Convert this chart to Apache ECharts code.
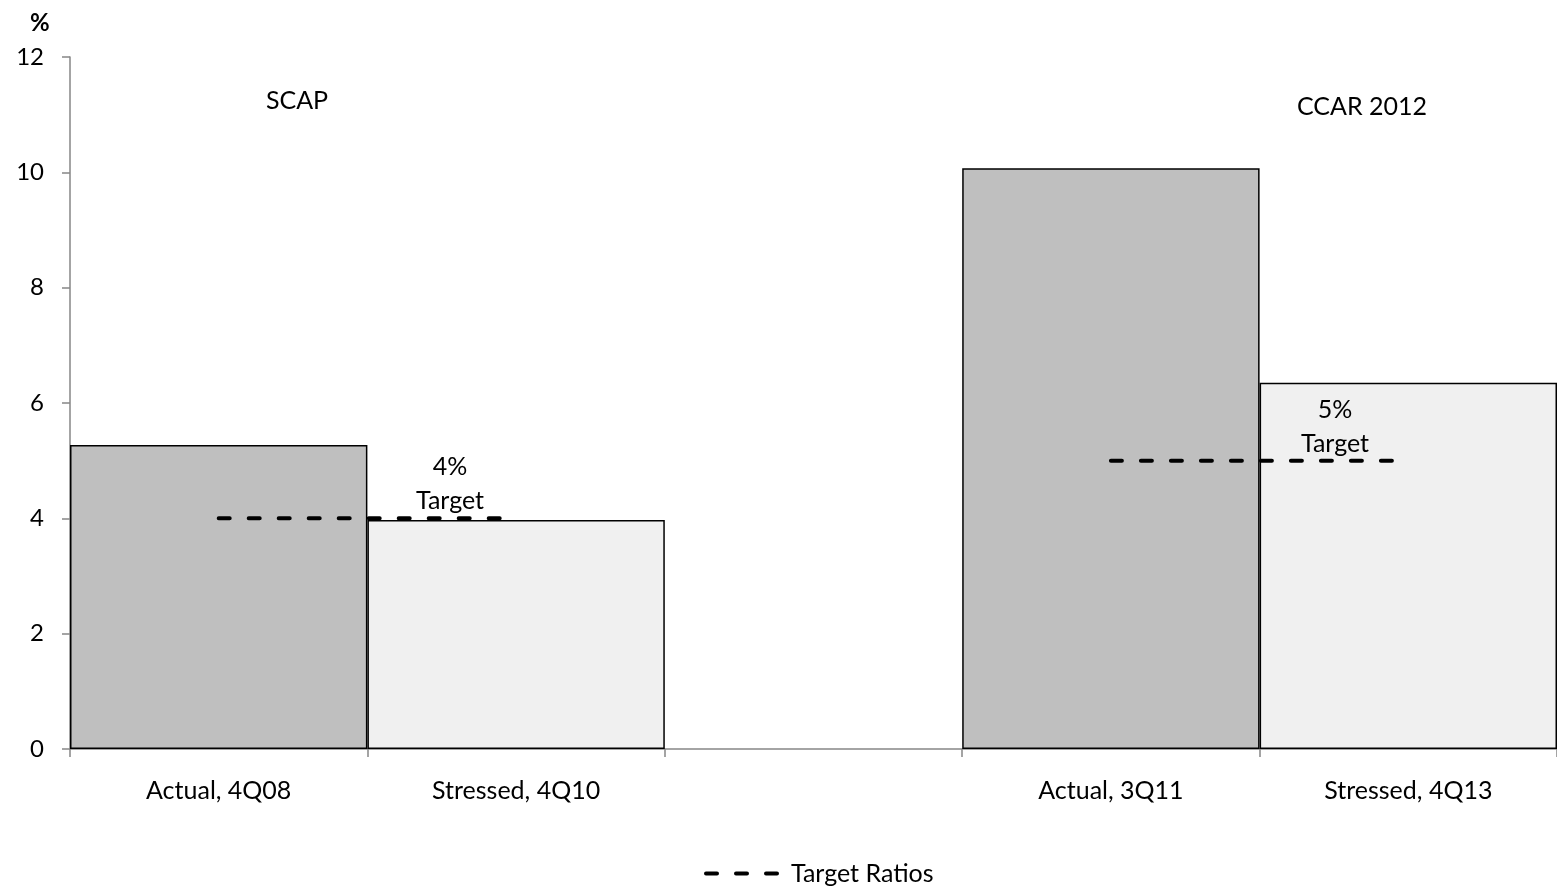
<!DOCTYPE html>
<html>
<head>
<meta charset="utf-8">
<script src="https://cdn.jsdelivr.net/npm/echarts@6/dist/echarts.min.js"></script>
<style>
  html, body { margin: 0; padding: 0; background: #fff; }
  #chart { width: 1557px; height: 886px; }
</style>
</head>
<body>
<div id="chart"></div>
<script>
// Tier 1 common ratio: actual vs. stressed, SCAP and CCAR 2012
const categories = ['Actual, 4Q08', 'Stressed, 4Q10', '', 'Actual, 3Q11', 'Stressed, 4Q13'];
const ratioValues = [5.27, 3.97, null, 10.07, 6.35];
const targetValues = [4, 4, null, 5, 5];
const targetLabels = ['4%\nTarget', '5%\nTarget'];
const programNames = ['SCAP', 'CCAR 2012'];
const yTicks = { min: 0, max: 12, interval: 2 };

const FONT = 'Lato, "Noto Sans", sans-serif';
const DARK = '#bfbfbf';
const LIGHT = '#f0f0f0';
const AXIS = '#868686';

const chart = echarts.init(document.getElementById('chart'), null, { renderer: 'canvas' });

chart.setOption({
  backgroundColor: '#ffffff',
  animation: false,
  textStyle: { fontFamily: FONT, color: '#000' },
  grid: { left: 70, right: 0, top: 57, bottom: 137, containLabel: false },
  xAxis: {
    type: 'category',
    data: categories,
    boundaryGap: true,
    axisLine: { lineStyle: { color: AXIS, width: 1.5 } },
    axisTick: { show: true, length: 8, alignWithLabel: false, lineStyle: { color: AXIS, width: 1.5 } },
    axisLabel: { margin: 29, fontSize: 25, color: '#000', fontFamily: FONT, interval: 0 },
    splitLine: { show: false }
  },
  yAxis: {
    type: 'value',
    min: yTicks.min,
    max: yTicks.max,
    interval: yTicks.interval,
    axisLine: { show: true, lineStyle: { color: AXIS, width: 1.5 } },
    axisTick: { show: true, length: 8, lineStyle: { color: AXIS, width: 1.5 } },
    axisLabel: { margin: 26, fontSize: 24, color: '#000', fontFamily: FONT },
    splitLine: { show: false }
  },
  legend: {
    data: ['Target Ratios'],
    left: 699,
    top: 856,
    itemWidth: 80,
    itemHeight: 14,
    itemStyle: { opacity: 0 },
    lineStyle: { color: '#000', width: 4, type: [11, 19], cap: 'round' },
    textStyle: { fontSize: 25, color: '#000', fontFamily: FONT, padding: [0, 0, 0, 0] }
  },
  graphic: [
    { type: 'text', z: 100, left: 30, top: 11, style: { text: '%', font: 'bold 24px ' + FONT, fill: '#000' } },
    { type: 'text', z: 100, x: 297, y: 101, style: { text: programNames[0], font: '25px ' + FONT, fill: '#000', align: 'center', verticalAlign: 'middle' } },
    { type: 'text', z: 100, x: 1362, y: 107, style: { text: programNames[1], font: '25px ' + FONT, fill: '#000', align: 'center', verticalAlign: 'middle' } },
    { type: 'text', z: 100, x: 450, y: 484, style: { text: targetLabels[0], font: '25px ' + FONT, fill: '#000', align: 'center', verticalAlign: 'middle', lineHeight: 34 } },
    { type: 'text', z: 100, x: 1335, y: 427, style: { text: targetLabels[1], font: '25px ' + FONT, fill: '#000', align: 'center', verticalAlign: 'middle', lineHeight: 34 } }
  ],
  series: [
    {
      name: 'Ratio',
      type: 'bar',
      data: ratioValues,
      barWidth: '100%',
      barGap: '-100%',
      itemStyle: {
        color: (p) => (String(p.name).indexOf('Actual') === 0 ? DARK : LIGHT),
        borderColor: '#000',
        borderWidth: 1.5
      },
      z: 2
    },
    {
      name: 'Target Ratios',
      type: 'line',
      data: targetValues,
      symbol: 'none',
      connectNulls: false,
      lineStyle: { color: '#000', width: 4, type: [11, 19], cap: 'round' },
      itemStyle: { color: '#000' },
      z: 5
    }
  ]
});
</script>
</body>
</html>
